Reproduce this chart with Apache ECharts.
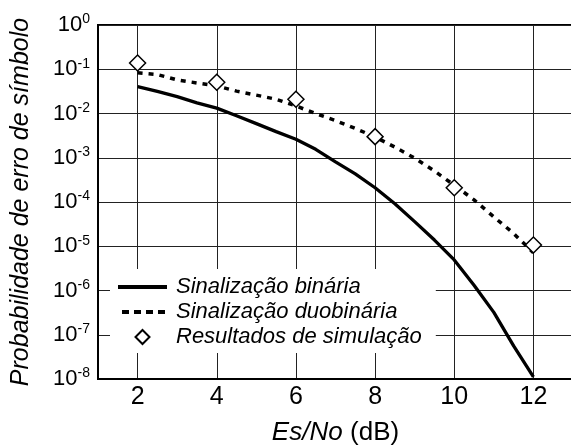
<!DOCTYPE html>
<html>
<head>
<meta charset="utf-8">
<script src="https://cdn.jsdelivr.net/npm/echarts@6/dist/echarts.min.js"></script>
<style>
html,body{margin:0;padding:0;background:#fff;}
#chart{width:571px;height:448px;}
</style>
</head>
<body>
<div id="chart"></div>
<script>
// ---- data ----
const seriesNames = ['Sinalização binária', 'Sinalização duobinária', 'Resultados de simulação'];
const esNo = [2, 2.5, 3, 3.5, 4, 4.5, 5, 5.5, 6, 6.5, 7, 7.5, 8, 8.5, 9, 9.5, 10, 10.5, 11, 11.5, 12];
const binaryPe = [4.07e-2, 3.16e-2, 2.40e-2, 1.74e-2, 1.32e-2, 8.9e-3, 5.9e-3, 3.9e-3, 2.63e-3, 1.55e-3, 8.1e-4, 4.3e-4, 2.1e-4, 9.1e-5, 3.6e-5, 1.38e-5, 4.9e-6, 1.32e-6, 3.2e-7, 5.6e-8, 1.12e-8];
const duobinaryPe = [8.3e-2, 7.6e-2, 5.75e-2, 4.9e-2, 4.2e-2, 3.2e-2, 2.6e-2, 2.1e-2, 1.48e-2, 1.0e-2, 6.9e-3, 4.6e-3, 2.95e-3, 1.74e-3, 9.8e-4, 5.0e-4, 2.4e-4, 1.12e-4, 4.6e-5, 1.95e-5, 7.1e-6];
const simEsNo = [2, 4, 6, 8, 10, 12];
const simPe = [0.138, 0.051, 0.021, 3.0e-3, 2.1e-4, 1.07e-5];
const xLabels = [2, 4, 6, 8, 10, 12];

const FONT = "'Liberation Sans', Arial, sans-serif";
const zip = (xs, ys) => xs.map((x, i) => [x, ys[i]]);

const chart = echarts.init(document.getElementById('chart'), null, {renderer: 'canvas'});
chart.setOption({
  backgroundColor: '#fff',
  animation: false,
  grid: {left: 98, top: 25, width: 475, height: 354, containLabel: false, outerBoundsMode: 'none',
         show: true, borderColor: '#000', borderWidth: 2, backgroundColor: 'transparent'},
  legend: {
    orient: 'vertical', left: 110, top: 269,
    backgroundColor: '#fff', padding: [6, 14, 4, 8],
    itemWidth: 49, itemHeight: 14, itemGap: 1, symbolKeepAspect: true,
    textStyle: {fontFamily: FONT, fontSize: 22, fontStyle: 'italic', color: '#000', lineHeight: 24, padding: [0, 0, 0, 4]},
    data: [
      {name: seriesNames[0], icon: 'path://M0,0H49V4H0Z'},
      {name: seriesNames[1], icon: 'path://M4,0h7v4h-7zM16,0h7v4h-7zM28,0h7v4h-7zM40,0h7v4h-7zM0,0h0.01v0.01h-0.01zM49,0h0.01v0.01h-0.01z'},
      {name: seriesNames[2], icon: 'path://M7,0L14,7L7,14L0,7Z'}
    ]
  },
  xAxis: {
    type: 'value', min: 1, max: 13, splitNumber: 6,
    axisLine: {show: true, lineStyle: {color: '#000', width: 2}},
    axisTick: {show: false},
    splitLine: {show: true, lineStyle: {color: '#222', width: 1}},
    axisLabel: {
      fontFamily: FONT, fontSize: 25, color: '#000', margin: 6,
      formatter: v => xLabels.indexOf(v) >= 0 ? String(v) : ''
    },
    name: '{i|Es/No} {n|(dB)}',
    nameLocation: 'middle', nameGap: 41,
    nameTextStyle: {
      rich: {
        i: {fontFamily: FONT, fontSize: 26, fontStyle: 'italic', color: '#000', padding: [0, 4, 0, 0]},
        n: {fontFamily: FONT, fontSize: 26, color: '#000'}
      }
    }
  },
  yAxis: {
    type: 'log', logBase: 10, min: 1e-8, max: 1, interval: 1, splitNumber: 8,
    axisLine: {show: true, lineStyle: {color: '#000', width: 2}},
    axisTick: {show: false},
    splitLine: {show: true, lineStyle: {color: '#222', width: 1}},
    axisLabel: {
      margin: 8,
      formatter: v => '{b|10}{s|' + Math.round(Math.log10(v)) + '}',
      rich: {
        b: {fontFamily: FONT, fontSize: 22, color: '#000'},
        s: {fontFamily: FONT, fontSize: 14, color: '#000', padding: [0, 0, 11, 0]}
      }
    },
    name: 'Probabilidade de erro de símbolo',
    nameLocation: 'middle', nameGap: 64, nameRotate: 90,
    nameTextStyle: {fontFamily: FONT, fontSize: 25, fontStyle: 'italic', color: '#000'}
  },
  series: [
    {
      name: seriesNames[0], type: 'line', data: zip(esNo, binaryPe),
      symbol: 'none', smooth: false, color: '#000',
      lineStyle: {color: '#000', width: 3.3}, z: 3
    },
    {
      name: seriesNames[1], type: 'line', data: zip(esNo, duobinaryPe),
      symbol: 'none', smooth: false, color: '#000',
      lineStyle: {color: '#000', width: 3.5, type: [5, 6]}, z: 3
    },
    {
      name: seriesNames[2], type: 'scatter', data: zip(simEsNo, simPe),
      symbol: 'diamond', symbolSize: 16,
      itemStyle: {color: '#fff', borderColor: '#000', borderWidth: 1.5, opacity: 1}, z: 4
    }
  ]
});
</script>
</body>
</html>
